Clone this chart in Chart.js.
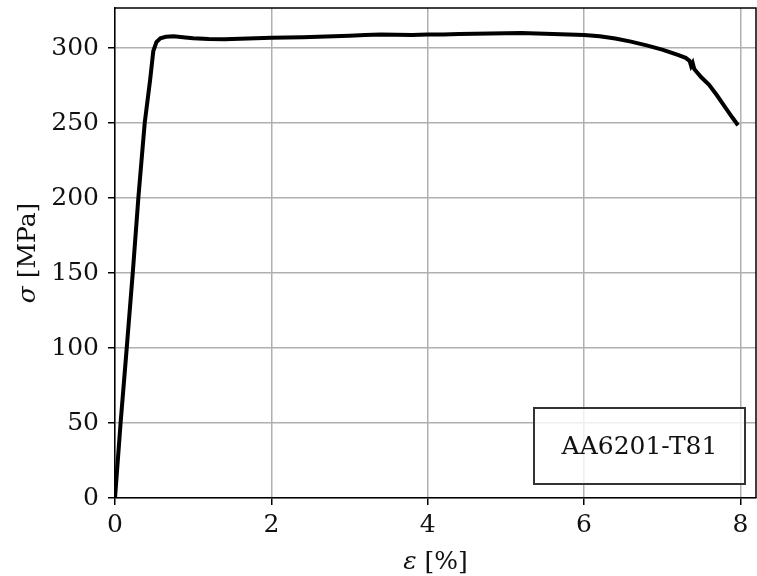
<!DOCTYPE html>
<html>
<head>
<meta charset="utf-8">
<script src="https://cdn.jsdelivr.net/npm/chart.js@4/dist/chart.umd.min.js"></script>
<style>
  html, body { margin: 0; padding: 0; background: #fff; }
  #wrap { width: 757px; height: 576px; }
</style>
</head>
<body>
<div id="wrap"><canvas id="c" width="757" height="576"></canvas></div>
<script>
// strain [%] and stress [MPa]
const strain = [0, 0.07, 0.15, 0.23, 0.30, 0.38, 0.45, 0.49, 0.53, 0.58, 0.65, 0.75, 0.9, 1.0,
  1.2, 1.4, 1.6, 1.8, 2.0, 2.2, 2.4, 2.6, 2.8, 3.0, 3.2, 3.4, 3.6, 3.8, 4.0, 4.2, 4.4,
  4.6, 4.8, 5.0, 5.2, 5.4, 5.6, 5.8, 6.0, 6.2, 6.4, 6.6, 6.8, 7.0, 7.2, 7.3, 7.35, 7.37,
  7.39, 7.41, 7.5, 7.6, 7.7, 7.8, 7.9, 7.97];
const stress = [0, 49, 100, 152, 201, 250, 279, 298, 304, 306.5, 307.5, 307.8, 307, 306.5,
  306, 305.8, 306.2, 306.5, 306.8, 307, 307.2, 307.5, 307.8, 308.2, 308.7, 309, 308.8, 308.7, 309, 309, 309.3,
  309.5, 309.7, 309.8, 310, 309.7, 309.4, 309, 308.7, 307.8, 306.3, 304.3, 301.8, 299, 295.5, 293.5, 291.5, 288,
  290, 286, 280.5, 275.5, 268.5, 261, 253.5, 248.5];
const xTicks = [0, 2, 4, 6, 8];
const yTicks = [0, 50, 100, 150, 200, 250, 300];
const xTitle = ['ε', ' [%]'];
const yTitle = ['σ', ' [MPa]'];
const boxLabel = 'AA6201-T81';

const FONT = "'DejaVu Serif', serif";
const SIZE = 25;

const points = strain.map((e, i) => ({ x: e, y: stress[i] }));

// top/right frame, label box and axis titles with the italic symbol
const extras = {
  id: 'extras',
  beforeDatasetsDraw(chart) {
    const a = chart.chartArea, ctx = chart.ctx;
    ctx.save();
    ctx.strokeStyle = '#000';
    ctx.lineWidth = 1.5;
    ctx.beginPath();
    ctx.moveTo(a.left, a.top);
    ctx.lineTo(a.right, a.top);
    ctx.lineTo(a.right, a.bottom);
    ctx.stroke();
    ctx.restore();
  },
  afterDraw(chart) {
    const a = chart.chartArea, ctx = chart.ctx;
    ctx.save();
    // label box
    const bw = 211, bh = 76;
    const bx = a.right - 11 - bw, by = a.bottom - 14 - bh;
    ctx.fillStyle = 'rgba(255,255,255,0.8)';
    ctx.fillRect(bx, by, bw, bh);
    ctx.strokeStyle = '#333';
    ctx.lineWidth = 2;
    ctx.strokeRect(bx, by, bw, bh);
    ctx.fillStyle = '#111';
    ctx.font = SIZE + 'px ' + FONT;
    ctx.textAlign = 'center';
    ctx.textBaseline = 'middle';
    ctx.fillText(boxLabel, bx + bw / 2, by + bh / 2 + 1);

    // axis titles
    function mixed(parts, cx, cy) {
      ctx.textAlign = 'left';
      ctx.textBaseline = 'middle';
      ctx.font = 'italic ' + SIZE + 'px ' + FONT;
      const w0 = ctx.measureText(parts[0]).width;
      ctx.font = SIZE + 'px ' + FONT;
      const w1 = ctx.measureText(parts[1]).width;
      let x = cx - (w0 + w1) / 2;
      ctx.font = 'italic ' + SIZE + 'px ' + FONT;
      ctx.fillText(parts[0], x, cy);
      ctx.font = SIZE + 'px ' + FONT;
      ctx.fillText(parts[1], x + w0, cy);
    }
    ctx.fillStyle = '#111';
    mixed(xTitle, (a.left + a.right) / 2, 562);
    ctx.translate(28, (a.top + a.bottom) / 2);
    ctx.rotate(-Math.PI / 2);
    mixed(yTitle, 0, 0);
    ctx.restore();
  }
};

const gridOpts = {
  color: '#b0b0b0',
  lineWidth: 1.5,
  tickColor: '#000',
  tickLength: 7,
  tickWidth: 1.5
};

new Chart(document.getElementById('c'), {
  type: 'line',
  data: {
    datasets: [{
      data: points,
      borderColor: '#000',
      borderWidth: 4,
      pointRadius: 0,
      tension: 0,
      fill: false
    }]
  },
  options: {
    responsive: false,
    animation: false,
    layout: { padding: { top: 8, right: 1, left: 0, bottom: 0 } },
    plugins: { legend: { display: false }, tooltip: { enabled: false } },
    scales: {
      x: {
        type: 'linear',
        min: 0,
        max: 8.2,
        grid: gridOpts,
        border: { color: '#000', width: 1.5 },
        ticks: { color: '#111', font: { family: FONT, size: SIZE }, padding: 5, maxRotation: 0 },
        afterBuildTicks: s => { s.ticks = xTicks.map(v => ({ value: v })); },
        afterFit: s => { s.height = 78; s.paddingLeft = 0; s.paddingRight = 0; }
      },
      y: {
        type: 'linear',
        min: 0,
        max: 326.7,
        grid: gridOpts,
        border: { color: '#000', width: 1.5 },
        ticks: { color: '#111', font: { family: FONT, size: SIZE }, padding: 9 },
        afterBuildTicks: s => { s.ticks = yTicks.map(v => ({ value: v })); },
        afterFit: s => { s.width = 115; s.paddingTop = 0; s.paddingBottom = 0; }
      }
    }
  },
  plugins: [extras]
});
</script>
</body>
</html>
